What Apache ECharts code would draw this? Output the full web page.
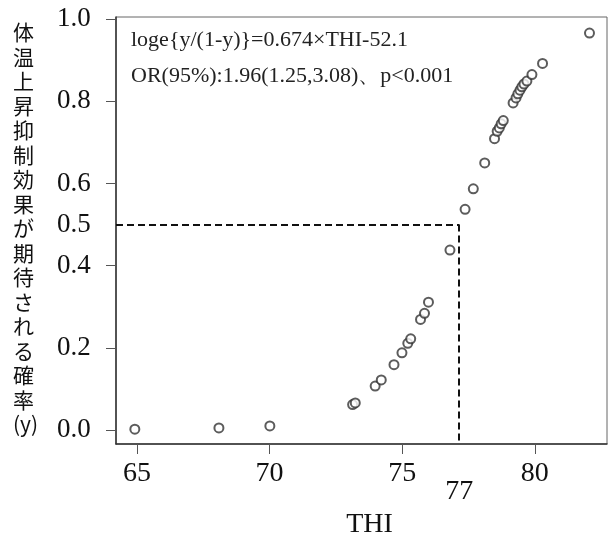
<!DOCTYPE html>
<html>
<head>
<meta charset="utf-8">
<script src="https://cdn.jsdelivr.net/npm/echarts@6/dist/echarts.min.js"></script>
<style>
  html, body { margin: 0; padding: 0; background: #fff; }
  #chart { width: 609px; height: 533px; }
</style>
</head>
<body>
<div id="chart"></div>
<script>
// THI vs probability
const thi = [64.92, 68.09, 70.01, 73.13, 73.23, 73.98, 74.21, 74.69, 74.99, 75.21, 75.32,
  75.69, 75.84, 75.99, 76.80, 77.37, 77.68, 78.11, 78.48, 78.58, 78.66, 78.73, 78.81,
  79.18, 79.29, 79.36, 79.44, 79.51, 79.59, 79.70, 79.89, 80.29, 82.06];
const prob = [0.002, 0.005, 0.010, 0.062, 0.066, 0.107, 0.122, 0.159, 0.188, 0.211, 0.222,
  0.269, 0.284, 0.311, 0.438, 0.537, 0.587, 0.650, 0.709, 0.727, 0.735, 0.745, 0.753,
  0.796, 0.808, 0.818, 0.827, 0.835, 0.842, 0.849, 0.865, 0.892, 0.966];

const xTicks = [65, 70, 75, 80];
const yTicks = [0, 0.2, 0.4, 0.6, 0.8, 1.0];
const cutX = 77.15;   // where the curve crosses 0.5 (labelled 77)
const cutY = 0.5;
const xMin = 64.21, xMax = 82.72;
const yMin = -0.034, yMax = 1.005;

const yTitle = ['体', '温', '上', '昇', '抑', '制', '効', '果', 'が', '期', '待', 'さ', 'れ', 'る', '確', '率', '(y)'];
const note1 = 'loge{y/(1-y)}=0.674×THI-52.1';
const note2 = 'OR(95%):1.96(1.25,3.08)、p<0.001';

const serif = '"Liberation Serif", "DejaVu Serif", serif';

const pts = thi.map((v, i) => [v, prob[i]]);

const chart = echarts.init(document.getElementById('chart'));
chart.setOption({
  animation: false,
  backgroundColor: '#fff',
  grid: {
    left: 116, right: 2, top: 17, bottom: 89,
    outerBoundsMode: 'none',
    containLabel: false,
    show: true, borderColor: '#666', borderWidth: 1
  },
  xAxis: {
    type: 'value',
    min: xMin, max: xMax,
    name: 'THI',
    nameLocation: 'middle',
    nameGap: 50,
    nameTextStyle: { fontFamily: serif, fontSize: 28, color: '#111', padding: [0, 0, 0, 16] },
    splitLine: { show: false },
    axisLine: { onZero: false, lineStyle: { color: '#333', width: 1.5 } },
    axisTick: { show: true, customValues: xTicks, length: 10, lineStyle: { color: '#555' } },
    axisLabel: {
      customValues: xTicks.concat([cutX]),
      margin: 16,
      fontFamily: serif, fontSize: 28, color: '#111',
      formatter: v => Math.abs(v - cutX) < 0.01 ? '{low|77}' : String(Math.round(v)),
      rich: { low: { fontFamily: serif, fontSize: 28, color: '#111', padding: [18, 0, 0, 0] } }
    }
  },
  yAxis: {
    type: 'value',
    min: yMin, max: yMax,
    splitLine: { show: false },
    axisLine: { onZero: false, lineStyle: { color: '#333', width: 1.5 } },
    axisTick: { show: true, customValues: yTicks, length: 10, lineStyle: { color: '#555' } },
    axisLabel: {
      customValues: yTicks.concat([cutY]),
      align: 'left',
      margin: 59,
      fontFamily: serif, fontSize: 27, color: '#111',
      formatter: v => v.toFixed(1)
    }
  },
  graphic: [
    {
      type: 'text',
      left: 13, top: 20,
      style: {
        text: yTitle.join('\n'),
        font: '21px "Noto Sans CJK JP", sans-serif',
        lineHeight: 24.5,
        fill: '#111',
        align: 'center'
      }
    },
    {
      type: 'text',
      left: 131, top: 22,
      style: {
        text: note1 + '\n' + note2,
        font: '22px ' + serif,
        lineHeight: 36,
        fill: '#222'
      }
    }
  ],
  series: [{
    type: 'scatter',
    data: pts,
    symbol: 'emptyCircle',
    symbolSize: 9,
    itemStyle: { color: '#333', borderWidth: 1.3 },
    markLine: {
      silent: true,
      symbol: 'none',
      label: { show: false },
      lineStyle: { color: '#111', width: 2, type: [7, 4] },
      data: [
        [{ coord: [xMin, cutY] }, { coord: [cutX, cutY] }],
        [{ coord: [cutX, cutY] }, { coord: [cutX, yMin] }]
      ]
    }
  }]
});
</script>
</body>
</html>
